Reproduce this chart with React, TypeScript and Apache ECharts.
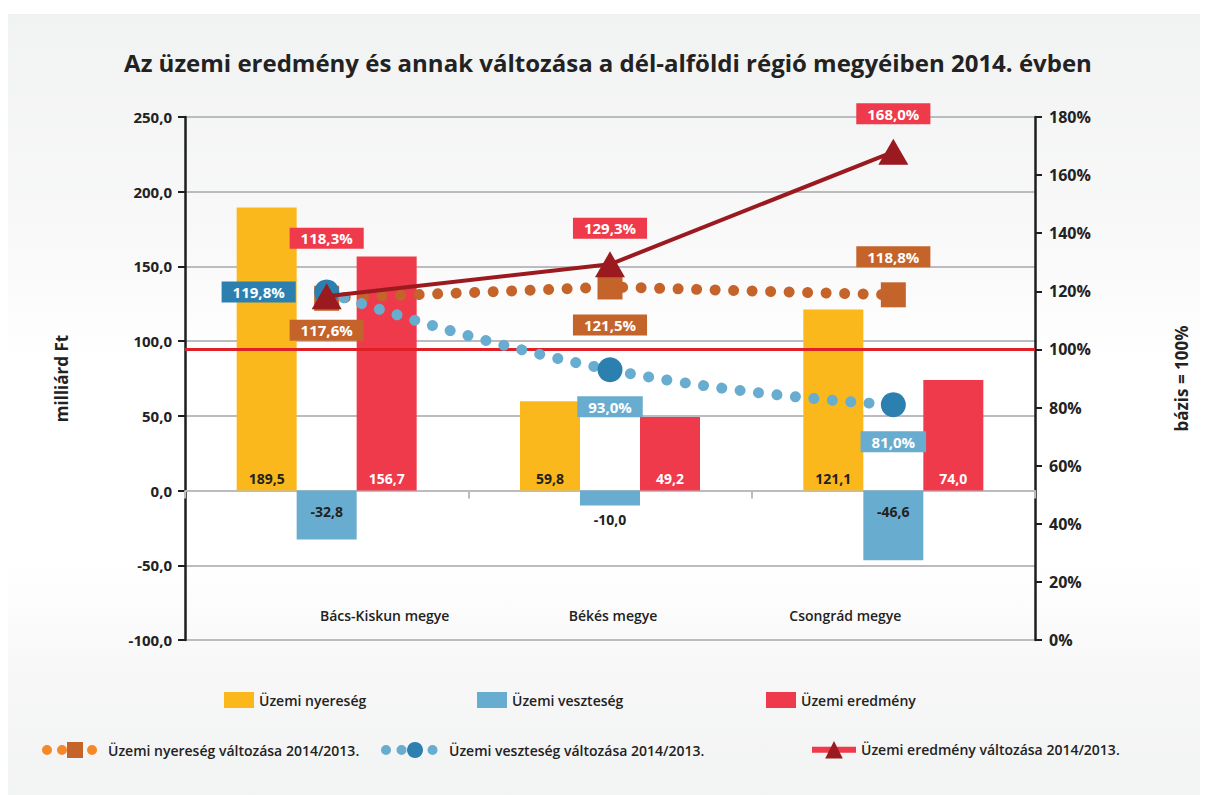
import React, { useEffect, useRef } from "react";
import * as echarts from "echarts";

const categories = ["Bács-Kiskun megye", "Békés megye", "Csongrád megye"];
const nyereseg = [189.5, 59.8, 121.1];
const veszteseg = [-32.8, -10.0, -46.6];
const eredmeny = [156.7, 49.2, 74.0];
const nyeresegValtozas = [117.6, 121.5, 118.8];
const vesztesegValtozas = [119.8, 93.0, 81.0];
const eredmenyValtozas = [118.3, 129.3, 168.0];
const baseLine = 100;

const names = {
  nyer: "Üzemi nyereség",
  veszt: "Üzemi veszteség",
  ered: "Üzemi eredmény",
  nyerV: "Üzemi nyereség változása 2014/2013.",
  vesztV: "Üzemi veszteség változása 2014/2013.",
  eredV: "Üzemi eredmény változása 2014/2013.",
};

const FONT = '"Open Sans", "Noto Sans", sans-serif';
const fmt1 = (v: number) => v.toFixed(1).replace(".", ",");
const fmtPct = (v: number) => fmt1(v) + "%";

function pctLabel(bg: string) {
  return {
    show: true,
    position: "inside",
    formatter: (p: any) => fmtPct(p.value),
    color: "#fff",
    fontFamily: FONT,
    fontWeight: "bold",
    fontSize: 15,
    backgroundColor: bg,
    padding: [3, 11, 3, 11],
  };
}

export default function App() {
  const ref = useRef<HTMLDivElement>(null);
  useEffect(() => {
    if (!ref.current) return;
    const chart = echarts.init(ref.current, null, { renderer: "svg" });

    const redOffsets = [[0, -58], [0, -36], [0, -38]];
    const orangeOffsets = [[0, 32], [0, 38], [0, -38]];
    const blueOffsets = [[-68, 0], [0, 37], [0, 37]];
    const blueBg = ["#2b80b0", "#68add0", "#68add0"];

    const legendText = { fontFamily: FONT, fontSize: 14, fontWeight: 600, color: "#222" };
    const barLabel = (color: string) => ({
      show: true,
      formatter: (p: any) => fmt1(p.value),
      fontFamily: FONT,
      fontWeight: "bold",
      fontSize: 14,
      color,
    });

    const option: any = {
      animation: false,
      backgroundColor: {
        type: "linear",
        x: 0, y: 0, x2: 0, y2: 1,
        colorStops: [
          { offset: 0, color: "#f1f2f2" },
          { offset: 0.3, color: "#f9f9f9" },
          { offset: 0.45, color: "#ffffff" },
          { offset: 0.7, color: "#ffffff" },
          { offset: 0.85, color: "#f7f7f7" },
          { offset: 1, color: "#f2f3f3" },
        ],
      },
      textStyle: { fontFamily: FONT },
      title: {
        text: "Az üzemi eredmény és annak változása a dél-alföldi régió megyéiben 2014. évben",
        left: "center",
        top: 31,
        textStyle: { fontFamily: FONT, fontSize: 24, fontWeight: "bold", color: "#222" },
      },
      legend: [
        { data: [names.nyer], left: 211, top: 673, icon: "rect", itemWidth: 30, itemHeight: 16, textStyle: legendText },
        { data: [names.veszt], left: 464, top: 673, icon: "rect", itemWidth: 30, itemHeight: 16, textStyle: legendText },
        { data: [names.ered], left: 753, top: 673, icon: "rect", itemWidth: 30, itemHeight: 16, textStyle: legendText },
        {
          data: [names.nyerV], left: 29, top: 723, itemWidth: 56, itemHeight: 20, textStyle: legendText,
          lineStyle: { color: "#f5892a", width: 10, type: [0.01, 15], cap: "round" },
        },
        {
          data: [names.vesztV], left: 368, top: 723, itemWidth: 58, itemHeight: 20, textStyle: legendText,
          lineStyle: { color: "#68add0", width: 10, type: [0.01, 15.5], cap: "round" },
        },
        {
          data: [names.eredV], left: 796, top: 722, itemWidth: 44, itemHeight: 22, textStyle: legendText,
          lineStyle: { color: "#ee3a4a", width: 6, type: "solid" },
        },
      ],
      grid: { left: 177, right: 173, top: 103, bottom: 155, containLabel: false },
      xAxis: [
        {
          type: "category",
          data: categories,
          axisLine: { show: true, onZero: true, lineStyle: { color: "#bcbcc0", width: 2 } },
          axisTick: { show: true, alignWithLabel: false, length: 8, lineStyle: { color: "#bcbcc0", width: 2 } },
          axisLabel: { show: false },
        },
        {
          type: "category",
          data: categories,
          position: "bottom",
          offset: -33,
          axisLine: { show: false, onZero: false },
          axisTick: { show: false },
          axisLabel: {
            margin: 1,
            interval: 0,
            formatter: (v: string, i: number) => `{c${i}|${v}}`,
            rich: {
              c0: { padding: [0, 0, 0, 116], fontFamily: FONT, fontSize: 14, fontWeight: 600, color: "#222" },
              c1: { padding: [0, 0, 0, 6], fontFamily: FONT, fontSize: 14, fontWeight: 600, color: "#222" },
              c2: { padding: [0, 96, 0, 0], fontFamily: FONT, fontSize: 14, fontWeight: 600, color: "#222" },
            },
          },
        },
      ],
      yAxis: [
        {
          type: "value",
          min: -100,
          max: 250,
          interval: 50,
          name: "milliárd Ft",
          nameLocation: "middle",
          nameGap: 115,
          nameRotate: 90,
          nameTextStyle: { fontFamily: FONT, fontSize: 17, fontWeight: "bold", color: "#222" },
          axisLine: { show: true, lineStyle: { color: "#1e1e1e", width: 2.5 } },
          axisTick: { show: true, length: 7, lineStyle: { color: "#1e1e1e", width: 2 } },
          axisLabel: { formatter: (v: number) => fmt1(v), fontFamily: FONT, fontSize: 15, fontWeight: "bold", color: "#222", margin: 13 },
          splitLine: { show: true, lineStyle: { color: "#bcbcc0", width: 2 } },
        },
        {
          type: "value",
          min: 0,
          max: 180,
          interval: 20,
          position: "right",
          name: "bázis = 100%",
          nameLocation: "middle",
          nameGap: 138,
          nameRotate: 90,
          nameTextStyle: { fontFamily: FONT, fontSize: 17, fontWeight: "bold", color: "#222" },
          axisLine: { show: true, onZero: false, lineStyle: { color: "#1e1e1e", width: 2.5 } },
          axisTick: { show: true, length: 7, lineStyle: { color: "#1e1e1e", width: 2 } },
          axisLabel: { formatter: (v: number) => v + "%", fontFamily: FONT, fontSize: 16, fontWeight: "bold", color: "#222", margin: 14 },
          splitLine: { show: false },
        },
      ],
      series: [
        {
          name: names.nyer,
          type: "bar",
          data: nyereseg,
          barWidth: 60,
          barGap: "0%",
          itemStyle: { color: "#fbb81c" },
          label: { ...barLabel("#222"), position: "insideBottom", distance: 5 },
        },
        {
          name: names.veszt,
          type: "bar",
          data: veszteseg.map((v) =>
            v > -20 ? { value: v, label: { position: "bottom", distance: 7 } } : v
          ),
          barWidth: 60,
          barGap: "0%",
          itemStyle: { color: "#68add0" },
          label: { ...barLabel("#222"), position: "insideTop", distance: 14 },
        },
        {
          name: names.ered,
          type: "bar",
          data: eredmeny,
          barWidth: 60,
          barGap: "0%",
          itemStyle: { color: "#ee3a4a" },
          label: { ...barLabel("#fff"), position: "insideBottom", distance: 5 },
        },
        {
          name: names.nyerV,
          type: "line",
          yAxisIndex: 1,
          z: 4,
          data: nyeresegValtozas.map((v, i) => ({
            value: v,
            label: { ...pctLabel("#c4632a"), offset: orangeOffsets[i] },
          })),
          symbol: "rect",
          symbolSize: 25,
          itemStyle: { color: "#c4632a" },
          lineStyle: { color: "#c4632a", width: 11, type: [0.01, 18.5], cap: "round" },
        },
        {
          name: names.vesztV,
          type: "line",
          yAxisIndex: 1,
          z: 5,
          smooth: 0.5,
          data: vesztesegValtozas.map((v, i) => ({
            value: v,
            label: { ...pctLabel(blueBg[i]), offset: blueOffsets[i] },
          })),
          symbol: "circle",
          symbolSize: 25,
          itemStyle: { color: "#2b80b0" },
          lineStyle: { color: "#68add0", width: 11, type: [0.01, 18.5], cap: "round" },
        },
        {
          name: names.eredV,
          type: "line",
          yAxisIndex: 1,
          z: 6,
          data: eredmenyValtozas.map((v, i) => ({
            value: v,
            label: { ...pctLabel("#ee3a4a"), offset: redOffsets[i] },
          })),
          symbol: "triangle",
          symbolSize: [30, 26],
          itemStyle: { color: "#9a1a1f" },
          lineStyle: { color: "#9a1a1f", width: 4 },
          markLine: {
            silent: true,
            symbol: "none",
            label: { show: false },
            lineStyle: { color: "#e11f26", width: 3, type: "solid" },
            data: [{ yAxis: baseLine }],
          },
        },
      ],
    };
    chart.setOption(option);
    return () => chart.dispose();
  }, []);
  return <div ref={ref} style={{ width: 1200, height: 781, marginTop: 6 }} />;
}
